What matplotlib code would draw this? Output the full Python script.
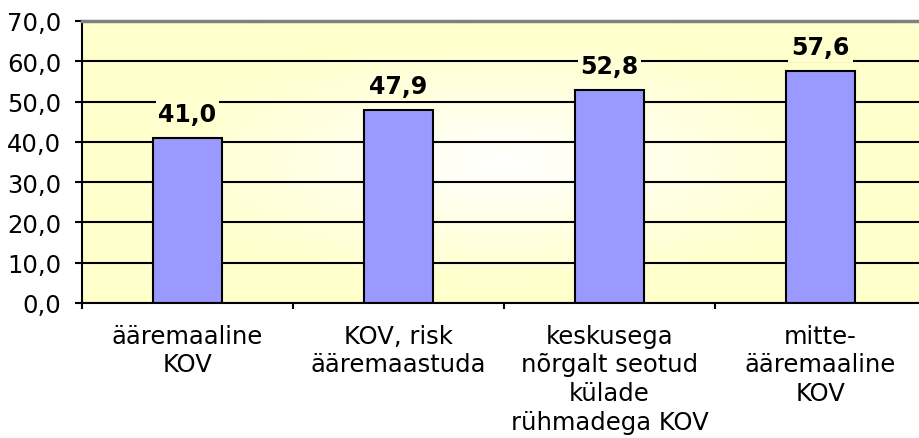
import numpy as np
import matplotlib
matplotlib.use('Agg')
import matplotlib.pyplot as plt

categories = ['ääremaaline\nKOV', 'KOV, risk\nääremaastuda',
              'keskusega\nnõrgalt seotud\nkülade\nrühmadega KOV',
              'mitte-\nääremaaline\nKOV']
values = [41.0, 47.9, 52.8, 57.6]
yticks = [0, 10, 20, 30, 40, 50, 60, 70]
ytick_labels = ['0,0', '10,0', '20,0', '30,0', '40,0', '50,0', '60,0', '70,0']

plt.rcParams['font.family'] = ['DejaVu Sans']
edge = np.array([255, 255, 204]) / 255.0
white = np.array([1.0, 1.0, 1.0])


def bg_color(ax_x, ax_y):
    t = np.sqrt(((ax_x - 0.5) / 0.5) ** 2 + ((ax_y - 0.5) / 0.5) ** 2) * 1.15
    t = np.clip(t, 0, 1)
    if np.ndim(t):
        return white + (edge - white) * t[..., None]
    return white + (edge - white) * t


fig = plt.figure(figsize=(9.2, 4.39), dpi=100)
ax = fig.add_axes([82 / 920, 1 - 304 / 439, 844 / 920, 282 / 439])

# radial gradient background
gx, gy = np.meshgrid(np.linspace(0, 1, 400), np.linspace(0, 1, 200))
img = bg_color(gx, gy)
ax.imshow(img, extent=(0, 1, 0, 1), transform=ax.transAxes, origin='lower',
          aspect='auto', zorder=0, interpolation='bilinear')

x = np.arange(len(categories))
ax.bar(x, values, width=0.33, color='#9999FF', edgecolor='black', linewidth=1.5, zorder=2)

ax.set_xlim(-0.5, 3.5)
ax.set_ylim(0, 70)
ax.set_axisbelow(True)
ax.yaxis.grid(True, color='black', linewidth=1.5)
ax.set_yticks(yticks)
ax.set_yticklabels(ytick_labels, fontsize=17.5)
ax.tick_params(axis='y', direction='out', length=5, width=1.5, pad=10)

ax.set_xticks(x)
ax.set_xticklabels(categories, fontsize=17.5, linespacing=1.24)
ax.tick_params(axis='x', which='major', length=0, pad=15)
ax.set_xticks(np.arange(-0.5, 4, 1), minor=True)
ax.tick_params(axis='x', which='minor', direction='out', length=4.5, width=1.5)

for s in ['left', 'bottom']:
    ax.spines[s].set_linewidth(1.5)
    ax.spines[s].set_color('black')
ax.spines['top'].set_color('#808080')
ax.spines['top'].set_linewidth(2.5)
ax.spines['right'].set_visible(False)

for xi, v in zip(x, values):
    c = bg_color(np.float64((xi + 0.5) / 4), np.float64((v + 6) / 70))
    ax.annotate(f'{v:.1f}'.replace('.', ','), (xi, v), xytext=(0, 12),
                textcoords='offset pixels', ha='center', va='bottom',
                fontsize=17, fontweight='bold', zorder=5,
                bbox=dict(boxstyle='square,pad=0.12', fc=c, ec='none'))

fig.savefig('out.png', dpi=100)
